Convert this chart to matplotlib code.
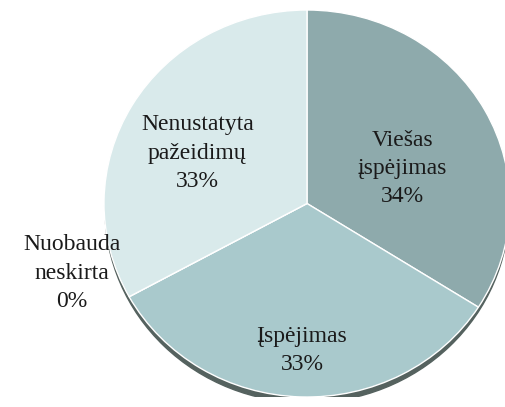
import matplotlib
matplotlib.use("Agg")
import matplotlib.pyplot as plt
from matplotlib.patches import Ellipse

labels = ["Viešas\nįspėjimas", "Įspėjimas", "Nuobauda\nneskirta", "Nenustatyta\npažeidimų"]
values = [34, 33, 0, 33]
pct_text = ["34%", "33%", "0%", "33%"]
colors = ["#8eaaac", "#a9c9cc", "#c4dcde", "#d9eaeb"]
# label centres in axes data units (pie radius = 1)
label_pos = [(0.47, 0.18), (-0.025, -0.76), (-1.16, -0.36), (-0.54, 0.26)]

plt.rcParams["font.family"] = ["Liberation Serif", "DejaVu Serif"]

fig = plt.figure(figsize=(5.05, 4.07), dpi=100)
ax = fig.add_axes([104 / 505, 10 / 407, 406 / 505, 387 / 407])

# soft shadow under the pie
ax.add_patch(Ellipse((0.0, -0.03), 1.99, 2.0, color="#55625f", zorder=0))

ax.pie(values, colors=colors, startangle=90, counterclock=False, radius=1,
       wedgeprops=dict(edgecolor="white", linewidth=1.0))

for lab, pct, (x, y) in zip(labels, pct_text, label_pos):
    ax.text(x, y, f"{lab}\n{pct}", ha="center", va="center",
            fontsize=17, color="#1a1a1a", linespacing=1.45, zorder=5)

ax.set_aspect("auto")
ax.set_xlim(-1, 1)
ax.set_ylim(-1, 1)
ax.axis("off")

fig.savefig("out.png", dpi=100)
